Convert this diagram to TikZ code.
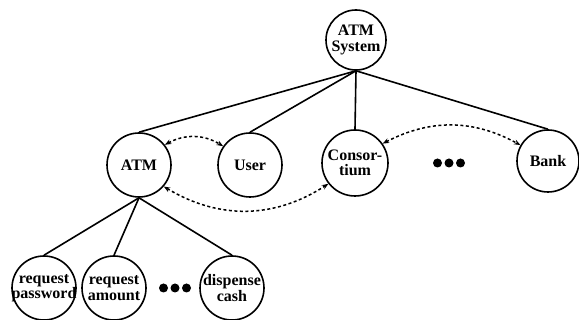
\documentclass[tikz,border=0pt]{standalone}
\usepackage{fontspec}
\setmainfont{Liberation Serif}
\usetikzlibrary{arrows.meta}
\tikzset{
  bubble/.style={draw, circle, line width=1.6pt, inner sep=0pt, minimum size=#1},
  lbl/.style={font=\fontsize{16}{15.5}\selectfont\bfseries, align=center, inner sep=0pt},
  tree/.style={line width=1.6pt},
  assoc/.style={line width=1.5pt, dash pattern=on 3pt off 2.5pt,
    {Stealth[length=6.5pt,width=5pt]}-{Stealth[length=6.5pt,width=5pt]}},
  dot/.style={fill=black}
}
\begin{document}
\begin{tikzpicture}[x=1pt,y=-1pt]
  \useasboundingbox (0,0) rectangle (579,320);
  % top level
  \node[bubble=60pt, label={[lbl]center:{ATM\\System}}] (sys) at (356,40) {};
  % second level
  \node[bubble=64pt, label={[lbl]center:ATM}] (atm) at (139,165) {};
  \node[bubble=64pt, label={[lbl]center:User}] (user) at (250,165) {};
  \node[bubble=66pt, label={[lbl]center:{Consor-\\tium}}] (cons) at (355,163) {};
  \node[bubble=62pt, label={[lbl]center:Bank}] (bank) at (548,161) {};
  \coordinate (dotsA) at (449,163);
  % third level
  \node[bubble=64pt, label={[lbl]center:{request\\password}}] (pw) at (44,288) {};
  \node[bubble=64pt, label={[lbl]center:{request\\amount}}] (amt) at (114,288) {};
  \node[bubble=64pt, label={[lbl]center:{dispense\\cash}}] (disp) at (232,288) {};
  \coordinate (dotsB) at (175,288);
  % ellipsis marks
  \foreach \c in {dotsA,dotsB}{
    \foreach \dx in {-11.5,0,11.5}{
      \fill[dot] ([xshift=\dx pt]\c) circle (4.5pt);
    }
  }
  % tree edges
  \foreach \n in {atm,user,cons,bank}{
    \draw[tree] (sys.south) -- (\n.north);
  }
  \foreach \n in {pw,amt,disp}{
    \draw[tree] (atm.south) -- (\n.north);
  }
  % associations
  \draw[assoc] (atm.38) to[bend left=30] (user.145);
  \draw[assoc] (atm.-41) to[bend right=32] (cons.-142);
  \draw[assoc] (cons.35) to[bend left=28] (bank.150);
\end{tikzpicture}
\end{document}
